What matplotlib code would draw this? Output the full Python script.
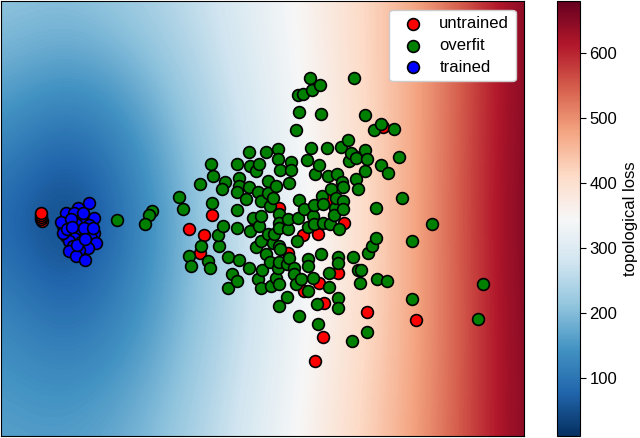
import numpy as np
import matplotlib
matplotlib.use('Agg')
import matplotlib.pyplot as plt

plt.rcParams['font.family'] = ['Liberation Sans', 'DejaVu Sans']

# loss surface sampled on a coarse grid (rows top -> bottom, cols left -> right)
grid_x = [0, 65.5, 131, 196.5, 262, 327.5, 393, 458.5, 524]
grid_y = [0, 73, 145, 218, 291, 363, 436]
loss_grid = [
    [215, 205, 228, 266, 320, 375, 442, 540, 665],
    [180, 150, 178, 242, 310, 372, 442, 540, 665],
    [130, 68, 130, 220, 300, 368, 442, 542, 668],
    [88, 18, 105, 210, 292, 362, 442, 545, 670],
    [120, 62, 125, 208, 290, 362, 442, 542, 668],
    [148, 120, 152, 222, 298, 370, 446, 542, 665],
    [165, 158, 185, 240, 310, 379, 452, 545, 665],
]
loss_min, loss_max = 11, 680

untrained_x = [40.5, 40, 40, 40, 40, 188, 203, 199, 211, 255, 278, 287, 302, 303, 317, 318,
               323, 322, 314, 328, 337, 343, 353, 367, 383, 416]
untrained_y = [220, 218, 216, 214, 212.5, 228, 234, 252, 214, 223, 207, 252, 234, 290, 233, 282,
               302, 337, 361, 198, 272, 222, 155, 311, 126, 319]

overfit_x = [116, 151, 148, 144, 178, 182, 188, 190, 200, 207, 209, 199, 212, 210, 211, 218,
             217, 222, 224, 221, 227, 227, 231, 236, 236, 238, 238, 236, 236, 238, 236, 245,
             248, 248, 248, 249, 249, 252, 255, 255, 257, 257, 258, 258, 260, 260, 260, 260,
             261, 265, 265, 267, 267, 267, 269, 269, 270, 272, 272, 273, 275, 275, 277, 277,
             277, 278, 278, 278, 278, 278, 278, 278, 279, 279, 286, 286, 287, 287, 288, 288,
             290, 290, 293, 293, 295, 295, 296, 297, 297, 298, 298, 298, 300, 302, 303, 306,
             307, 307, 307, 307, 309, 310, 311, 312, 312, 313, 313, 314, 316, 317, 318, 319,
             320, 320, 321, 322, 322, 326, 327, 328, 328, 329, 330, 334, 333, 335, 336, 337,
             337, 337, 337, 338, 340, 341, 342, 342, 342, 347, 348, 350, 351, 352, 353, 355,
             355, 357, 357, 359, 360, 364, 364, 365, 367, 367, 368, 372, 374, 376, 376, 377,
             381, 381, 387, 388, 394, 399, 402, 412, 412, 432, 478, 483]
overfit_y = [219, 210, 214, 223, 196, 208, 255, 265, 245, 260, 267, 183, 175, 163, 202, 245,
             234, 225, 181, 188, 256, 287, 273, 280, 163, 177, 185, 191, 209, 259, 227, 198,
             151, 186, 267, 165, 230, 217, 246, 170, 191, 278, 163, 225, 200, 215, 240, 287,
             269, 151, 253, 180, 192, 233, 205, 261, 285, 197, 242, 233, 185, 277, 148, 158,
             267, 213, 222, 227, 245, 261, 283, 305, 169, 248, 263, 296, 228, 218, 182, 257,
             161, 169, 267, 273, 129, 283, 240, 94, 217, 111, 199, 315, 278, 93, 208, 159,
             226, 258, 265, 290, 77, 147, 89, 215, 277, 204, 223, 173, 303, 323, 164, 84,
             113, 253, 195, 203, 222, 147, 175, 286, 272, 223, 188, 207, 214, 197, 173, 256,
             262, 297, 307, 228, 146, 181, 186, 200, 208, 139, 160, 152, 341, 256, 77, 157,
             178, 188, 269, 282, 269, 114, 149, 170, 158, 331, 252, 245, 129, 207, 237, 278,
             123, 164, 280, 172, 128, 156, 197, 240, 298, 223, 318, 283]

trained_x = [88, 77, 65, 73, 93, 67, 80, 88, 62, 70, 78, 85, 93, 65, 73, 90, 68, 80,
             95, 72, 87, 78, 68, 75, 84, 60, 62, 75, 83, 92, 70, 82, 66, 76, 84, 71]
trained_y = [202, 207, 212, 212, 217, 222, 219, 224, 225, 230, 232, 233, 232, 235, 237, 237, 240, 241,
             242, 245, 247, 249, 250, 255, 259, 221, 232, 223, 227, 227, 218, 212, 228, 244, 238, 226]

fig = plt.figure(figsize=(6.4, 4.38), dpi=100)
ax = fig.add_axes([0.002, 0.004, 0.817, 0.993])
cax = fig.add_axes([0.870, 0.004, 0.036, 0.993])

# grid values sit on grid nodes -> pad extent by half a cell
dx = (grid_x[-1] - grid_x[0]) / (len(grid_x) - 1)
dy = (grid_y[-1] - grid_y[0]) / (len(grid_y) - 1)
im = ax.imshow(np.array(loss_grid, dtype=float), cmap='RdBu_r', vmin=loss_min, vmax=loss_max,
               interpolation='bicubic', aspect='auto', origin='upper',
               extent=(grid_x[0] - dx / 2, grid_x[-1] + dx / 2, grid_y[-1] + dy / 2, grid_y[0] - dy / 2))

kw = dict(s=72, edgecolors='black', linewidths=1.2)
ax.scatter(untrained_x, untrained_y, c='red', label='untrained', **kw)
ax.scatter(overfit_x, overfit_y, c='green', label='overfit', **kw)
ax.scatter(trained_x, trained_y, c='blue', label='trained', **kw)

ax.set_xlim(grid_x[0], grid_x[-1])
ax.set_ylim(grid_y[-1], grid_y[0])
ax.set_xticks([])
ax.set_yticks([])

leg = ax.legend(loc='upper right', fontsize=12, borderaxespad=0.5, handletextpad=0.6,
                labelspacing=0.4, framealpha=1, edgecolor='#cccccc')

cb = fig.colorbar(im, cax=cax, ticks=[100, 200, 300, 400, 500, 600])
cb.ax.tick_params(labelsize=12, length=4, pad=3)
cb.set_label('topological loss', fontsize=12)

fig.savefig('out.png', dpi=100)
